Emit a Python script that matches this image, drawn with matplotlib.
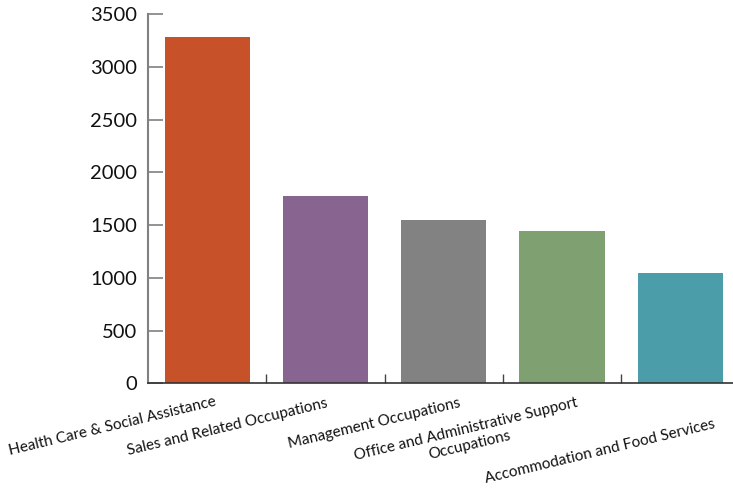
import matplotlib
matplotlib.use("Agg")
import matplotlib.pyplot as plt
from matplotlib.ticker import FixedLocator

categories = [
    "Health Care & Social Assistance",
    "Sales and Related Occupations",
    "Management Occupations",
    "Office and Administrative Support\nOccupations",
    "Accommodation and Food Services",
]
values = [3280, 1775, 1548, 1444, 1046]
colors = ["#C7522A", "#876590", "#818281", "#7FA172", "#4A9DA9"]
yticks = [0, 500, 1000, 1500, 2000, 2500, 3000, 3500]

# label offsets (pixels) of each label's right end (last-line baseline) from the category center at y=0
label_dx = [10, 3, 17, 20, 35]
label_dy = [-22, -24, -24, -37, -45]

plt.rcParams["font.family"] = ["Lato", "DejaVu Sans"]

fig = plt.figure(figsize=(7.33, 4.91), dpi=100)
ax = fig.add_axes([148 / 733, 1 - 383.3 / 491, 591.5 / 733, 369.3 / 491])

x = list(range(len(categories)))
ax.bar(x, values, width=0.72, color=colors, zorder=2)

ax.set_xlim(-0.5, len(categories) - 0.5)
ax.set_ylim(0, 3500)
ax.set_yticks(yticks)
ax.set_yticklabels([str(t) for t in yticks], fontsize=14.5, color="#111111")
ax.tick_params(axis="y", direction="in", length=10.8, width=1.2, color="#808080", pad=8)

ax.set_xticks([])
ax.xaxis.set_minor_locator(FixedLocator([i + 0.5 for i in x[:-1]]))
ax.tick_params(axis="x", which="minor", direction="in", length=6.5, width=1, color="#444444")

for s in ["top", "right"]:
    ax.spines[s].set_visible(False)
ax.spines["left"].set_color("#808080")
ax.spines["left"].set_linewidth(1.5)
ax.spines["bottom"].set_color("#333333")
ax.spines["bottom"].set_linewidth(1.2)

for i, lab in enumerate(categories):
    ax.annotate(lab, xy=(i, 0), xycoords="data",
                xytext=(label_dx[i], label_dy[i]), textcoords="offset pixels",
                ha="right", va="baseline", rotation=13.5, rotation_mode="anchor",
                multialignment="center", fontsize=11, color="#111111",
                linespacing=1.2, annotation_clip=False)

fig.savefig("out.png", dpi=100)
